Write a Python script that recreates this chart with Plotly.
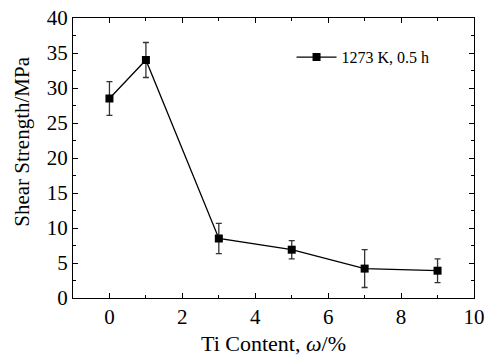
import plotly.graph_objects as go

ti_content = [0, 1, 3, 5, 7, 9]
shear_strength = [28.5, 34.0, 8.5, 6.9, 4.2, 3.9]
error = [2.4, 2.5, 2.15, 1.3, 2.7, 1.7]
series_name = "1273 K, 0.5 h"
y_title = "Shear Strength/MPa"
x_title = "Ti Content, <i>ω</i>/%"

fig = go.Figure()
fig.add_trace(go.Scatter(
    x=ti_content, y=shear_strength, mode="lines+markers", name=series_name,
    line=dict(color="black", width=1.3),
    marker=dict(symbol="square", size=8, color="black"),
    error_y=dict(type="data", array=error, visible=True, color="#333333", thickness=1.3, width=3),
))

font_family = "Liberation Serif"
axis_common = dict(
    showline=True, linecolor="black", linewidth=1.3, mirror="ticks",
    ticks="inside", ticklen=5, tickwidth=1.3, tickcolor="black",
    showgrid=False, zeroline=False, automargin=False,
    tickfont=dict(family=font_family, size=21, color="black"),
)
fig.update_layout(
    width=489, height=359,
    margin=dict(l=73, r=15, t=18, b=61),
    plot_bgcolor="white", paper_bgcolor="white",
    xaxis=dict(range=[-1, 10], dtick=2, tick0=0,
               minor=dict(dtick=1, ticks="inside", ticklen=3, tickcolor="black", tickwidth=1),
               title=dict(text=x_title, font=dict(family=font_family, size=22, color="black"), standoff=7),
               **axis_common),
    yaxis=dict(range=[0, 40], dtick=5,
               minor=dict(dtick=2.5, ticks="inside", ticklen=3, tickcolor="black", tickwidth=1),
               **axis_common),
    showlegend=True,
    legend=dict(x=0.545, y=0.86, xanchor="left", yanchor="middle",
                font=dict(family=font_family, size=16, color="black"),
                bgcolor="rgba(0,0,0,0)", itemwidth=40),
)
fig.add_annotation(text=y_title, xref="paper", yref="paper", x=-0.128, y=0.557,
                   xanchor="center", yanchor="middle", textangle=-90, showarrow=False,
                   font=dict(family=font_family, size=21, color="black"))
fig.write_html("out.html")
